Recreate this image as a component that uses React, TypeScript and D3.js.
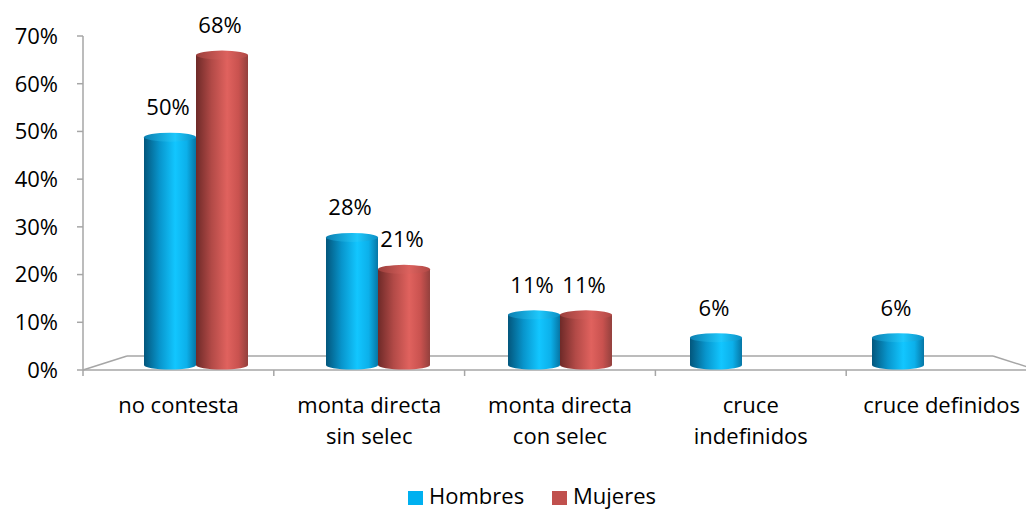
import React from 'react';
import * as d3 from 'd3';

const categories = ['no contesta', 'monta directa sin selec', 'monta directa con selec', 'cruce indefinidos', 'cruce definidos'];
const categoryLines = [['no contesta'], ['monta directa', 'sin selec'], ['monta directa', 'con selec'], ['cruce', 'indefinidos'], ['cruce definidos']];
const seriesNames = ['Hombres', 'Mujeres'];
const hombres = [0.50, 0.28, 0.11, 0.06, 0.06];
const mujeres = [0.68, 0.21, 0.11, 0, 0];
const yTicks = [0, 0.1, 0.2, 0.3, 0.4, 0.5, 0.6, 0.7];

const W = 1026;
const H = 510;
const FONT = "'Open Sans', sans-serif";
const legendColors = ['#00b0f0', '#c0504d'];

function App() {
  // front plane of the floor, and depth offset to back plane
  const frontX = d3.scaleBand<string>().domain(categories).range([83, 1037]);
  const depth = { dx: 44, dy: -14 };
  const y = d3.scaleLinear().domain([0, 0.7]).range([370, 36]);

  // bars sit half way back
  const barX = d3.scaleBand<string>().domain(categories)
    .range([83 + depth.dx / 2, 1037 - depth.dx / 2])
    .paddingInner(0.4286).paddingOuter(0.2143);
  const sub = d3.scaleBand<string>().domain(seriesNames).range([0, barX.bandwidth()]);
  const yBar = d3.scaleLinear().domain([0, 0.7]).range([365, 46]);
  const ry = 4.5;
  const fmt = d3.format('.0%');

  const values = [hombres, mujeres];
  const bars: { key: string; x: number; w: number; v: number; s: number }[] = [];
  categories.forEach((c, i) => {
    seriesNames.forEach((s, j) => {
      const v = values[j][i];
      if (v > 0) bars.push({ key: c + s, x: (barX(c) || 0) + (sub(s) || 0), w: sub.bandwidth(), v, s: j });
    });
  });

  const floorBack = 370 + depth.dy;
  const axisColor = '#a6a6a6';

  return (
    <svg width={W} height={H} style={{ position: 'absolute', left: 0, top: 0, background: '#fff' }} fontFamily={FONT}>
      <defs>
        <linearGradient id="gBlue" x1="0" x2="1" y1="0" y2="0">
          <stop offset="0" stopColor="#03567c" />
          <stop offset="0.3" stopColor="#0895cc" />
          <stop offset="0.6" stopColor="#12c6ff" />
          <stop offset="0.82" stopColor="#0cb0ea" />
          <stop offset="1" stopColor="#0676a5" />
        </linearGradient>
        <linearGradient id="gRed" x1="0" x2="1" y1="0" y2="0">
          <stop offset="0" stopColor="#6e2a28" />
          <stop offset="0.3" stopColor="#b24a47" />
          <stop offset="0.6" stopColor="#e0625e" />
          <stop offset="0.82" stopColor="#c9524f" />
          <stop offset="1" stopColor="#93403d" />
        </linearGradient>
        <linearGradient id="tBlue" x1="0" x2="1" y1="0" y2="0">
          <stop offset="0" stopColor="#0c7fb0" />
          <stop offset="0.6" stopColor="#1ec8fc" />
          <stop offset="1" stopColor="#0b8fc4" />
        </linearGradient>
        <linearGradient id="tRed" x1="0" x2="1" y1="0" y2="0">
          <stop offset="0" stopColor="#9b3f3c" />
          <stop offset="0.6" stopColor="#dc625e" />
          <stop offset="1" stopColor="#b04845" />
        </linearGradient>
      </defs>

      {/* floor */}
      <g stroke={axisColor} strokeWidth={1.5} fill="none">
        <line x1={83} y1={370} x2={1037} y2={370} />
        <line x1={83 + depth.dx} y1={floorBack} x2={1037 - depth.dx} y2={floorBack} />
        <line x1={83} y1={370} x2={83 + depth.dx} y2={floorBack} />
        <line x1={1037 - depth.dx} y1={floorBack} x2={1037} y2={370} />
        {categories.map((c) => (
          <line key={c} x1={frontX(c) || 0} y1={370} x2={frontX(c) || 0} y2={376} />
        ))}
      </g>

      {/* y axis */}
      <g stroke={axisColor} strokeWidth={1.5}>
        <line x1={83} y1={y(0.7)} x2={83} y2={y(0)} />
        {yTicks.map((t) => (
          <line key={t} x1={77} y1={y(t)} x2={83} y2={y(t)} />
        ))}
      </g>
      <g fontSize={22} fill="#000" textAnchor="end">
        {yTicks.map((t) => (
          <text key={t} x={58} y={y(t)} dy="0.36em">{fmt(t)}</text>
        ))}
      </g>

      {/* cylinders */}
      {bars.map((b) => {
        const yt = yBar(b.v);
        const yb = yBar(0);
        const rx = b.w / 2;
        const body = `M${b.x},${yt} L${b.x},${yb} A${rx},${ry} 0 0 0 ${b.x + b.w},${yb} L${b.x + b.w},${yt} Z`;
        return (
          <g key={b.key}>
            <path d={body} fill={b.s === 0 ? 'url(#gBlue)' : 'url(#gRed)'} />
            <ellipse cx={b.x + rx} cy={yt} rx={rx} ry={ry} fill={b.s === 0 ? 'url(#tBlue)' : 'url(#tRed)'} />
          </g>
        );
      })}

      {/* data labels */}
      <g fontSize={22} fill="#000" textAnchor="middle">
        {bars.map((b) => (
          <text key={b.key} x={b.x + b.w / 2 - 2} y={yBar(b.v) - 22}>{fmt(b.v)}</text>
        ))}
      </g>

      {/* category labels */}
      <g fontSize={22} fill="#000" textAnchor="middle">
        {categories.map((c, i) => (
          <text key={c} x={(frontX(c) || 0) + frontX.bandwidth() / 2} y={413}>
            {categoryLines[i].map((l, k) => (
              <tspan key={k} x={(frontX(c) || 0) + frontX.bandwidth() / 2} dy={k === 0 ? 0 : 31}>{l}</tspan>
            ))}
          </text>
        ))}
      </g>

      {/* legend */}
      <g fontSize={22} fill="#000">
        <rect x={408} y={491} width={15} height={14} fill={legendColors[0]} />
        <text x={429} y={504}>{seriesNames[0]}</text>
        <rect x={552} y={491} width={15} height={14} fill={legendColors[1]} />
        <text x={573} y={504}>{seriesNames[1]}</text>
      </g>
    </svg>
  );
}

export default App;
